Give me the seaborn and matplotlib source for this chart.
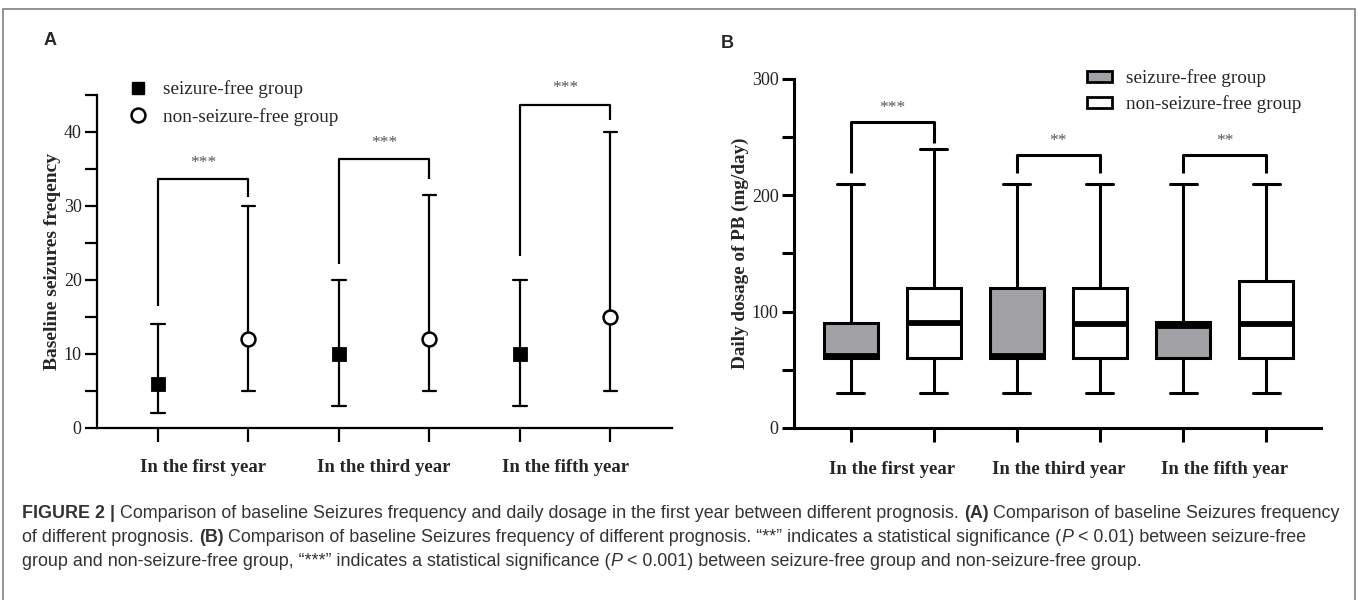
import numpy as np
import pandas as pd
import matplotlib
matplotlib.use("Agg")
import matplotlib.pyplot as plt
import seaborn as sns
from matplotlib.lines import Line2D
from matplotlib.patches import Patch, Rectangle

years = ["In the first year", "In the third year", "In the fifth year"]
groups = ["seizure-free group", "non-seizure-free group"]

# A: baseline seizure frequency, median with range
freq_med_sf = [6, 10, 10]
freq_low_sf = [2, 3, 3]
freq_high_sf = [14, 20, 20]
freq_med_nsf = [12, 12, 15]
freq_low_nsf = [5, 5, 5]
freq_high_nsf = [30, 31.5, 40]
brk_a_top = [33.6, 36.3, 43.7]
brk_a_left = [16.5, 22.2, 23.2]
brk_a_right = [31.2, 33.7, 41.6]
stars_a = ["***", "***", "***"]

# B: daily dosage of PB, box summaries
dose_min_sf = [30, 30, 30]
dose_q1_sf = [60, 60, 60]
dose_med_sf = [62, 62, 88]
dose_q3_sf = [90, 120, 91]
dose_max_sf = [210, 210, 210]
dose_min_nsf = [30, 30, 30]
dose_q1_nsf = [60, 60, 60]
dose_med_nsf = [90, 89, 89]
dose_q3_nsf = [120, 120, 126]
dose_max_nsf = [240, 210, 210]
brk_b_top = [263, 235, 235]
brk_b_left = [219, 219, 219]
brk_b_right = [245, 219, 219]
stars_b = ["***", "**", "**"]

sns.set_style("ticks")
plt.rcParams["font.family"] = ["Liberation Serif", "DejaVu Serif"]

# long tables for seaborn
rows = []
for i, y in enumerate(years):
    for v in (freq_low_sf[i], freq_med_sf[i], freq_high_sf[i]):
        rows.append((y, groups[0], v))
    for v in (freq_low_nsf[i], freq_med_nsf[i], freq_high_nsf[i]):
        rows.append((y, groups[1], v))
dfa = pd.DataFrame(rows, columns=["year", "group", "freq"])

rows = []
for i, y in enumerate(years):
    for v in (dose_min_sf[i], dose_q1_sf[i], dose_med_sf[i], dose_q3_sf[i], dose_max_sf[i]):
        rows.append((y, groups[0], v))
    for v in (dose_min_nsf[i], dose_q1_nsf[i], dose_med_nsf[i], dose_q3_nsf[i], dose_max_nsf[i]):
        rows.append((y, groups[1], v))
dfb = pd.DataFrame(rows, columns=["year", "group", "dose"])

fig = plt.figure(figsize=(13.58, 6.0), dpi=100)
fig.patches.append(Rectangle((0.0022, -0.02), 0.9956, 1.005, transform=fig.transFigure,
                             fill=False, edgecolor="#8a8a8a", linewidth=1.3))

offs = [-0.25, 0.25]

def style_axis(ax, lw, top, pad):
    sns.despine(ax=ax)
    for s in ("left", "bottom"):
        ax.spines[s].set_linewidth(lw)
        ax.spines[s].set_color("black")
    ax.spines["left"].set_bounds(0, top)
    ax.set_xticks(range(len(years)))
    ax.set_xticklabels(years, fontsize=13.5, fontweight="bold")
    ax.set_xticks([i + o for i in range(len(years)) for o in offs], minor=True)
    ax.tick_params(axis="x", which="major", length=0, pad=pad)
    ax.tick_params(axis="x", which="minor", length=10, width=lw, color="black")
    ax.tick_params(axis="y", which="both", length=9, width=lw, color="black",
                   labelsize=13, labelcolor="#222222", pad=2)
    ax.set_xlabel("")
    ax.set_facecolor("white")


def bracket(ax, i, top, left, right, txt, gap, lw):
    x0, x1 = i + offs[0], i + offs[1]
    ax.plot([x0, x0, x1, x1], [left, top, top, right], color="black", lw=lw,
            clip_on=False, solid_capstyle="butt")
    ax.text((x0 + x1) / 2, top + gap, txt, ha="center", va="center", fontsize=12.5,
            color="#555555", clip_on=False)


# ---- panel A ----
axa = fig.add_axes([0.0714, 0.2867, 0.4234, 0.555])
sns.pointplot(data=dfa, x="year", y="freq", hue="group", order=years, hue_order=groups,
              estimator="median", errorbar=lambda v: (v.min(), v.max()), dodge=0.5,
              markers=["s", "o"], linestyle="none", palette=["black", "black"],
              capsize=0.075, err_kws={"linewidth": 1.6}, markersize=9, legend=False, ax=axa)
for ln in axa.lines:
    if ln.get_marker() == "o":
        ln.set_markerfacecolor("white")
        ln.set_markeredgewidth(1.8)
        ln.set_markersize(10)
        ln.set_zorder(6)
    elif ln.get_marker() == "s":
        ln.set_zorder(6)
axa.set_ylim(0, 45)
axa.set_xlim(-0.586, 2.59)
axa.set_yticks([0, 10, 20, 30, 40])
axa.set_yticks([5, 15, 25, 35, 45], minor=True)
style_axis(axa, 1.6, 45, 22)
axa.set_ylabel("Baseline seizures freqency", fontsize=14, fontweight="bold")
axa.yaxis.set_label_coords(-0.062, 0.5)
for i in range(len(years)):
    bracket(axa, i, brk_a_top[i], brk_a_left[i], brk_a_right[i], stars_a[i], 2.2, 1.6)

hand_a = [Line2D([], [], marker="s", color="black", linestyle="none", markersize=9),
          Line2D([], [], marker="o", color="black", markerfacecolor="white", markeredgewidth=1.8,
                 linestyle="none", markersize=10)]
fig.legend(hand_a, groups, loc="upper left", bbox_to_anchor=(0.087, 0.882), frameon=False,
           fontsize=13.8, handlelength=1.1, handletextpad=0.75, labelspacing=0.5, borderpad=0)

# ---- panel B ----
axb = fig.add_axes([0.5847, 0.2867, 0.3881, 0.5817])
sns.boxplot(data=dfb, x="year", y="dose", hue="group", order=years, hue_order=groups,
            palette=["#a2a2a6", "white"], saturation=1, whis=(0, 100), width=1.0, gap=0.35,
            linewidth=2.2, linecolor="black", medianprops={"linewidth": 4.2},
            legend=False, ax=axb)
axb.set_ylim(0, 300)
axb.set_xlim(-0.59, 2.58)
axb.set_yticks([0, 100, 200, 300])
axb.set_yticks([50, 150, 250], minor=True)
style_axis(axb, 2.2, 300, 24)
axb.set_ylabel("Daily dosage of PB (mg/day)", fontsize=13.8, fontweight="bold")
axb.yaxis.set_label_coords(-0.085, 0.5)
for i in range(len(years)):
    bracket(axb, i, brk_b_top[i], brk_b_left[i], brk_b_right[i], stars_b[i], 12, 2.2)

hand_b = [Patch(facecolor="#a2a2a6", edgecolor="black", linewidth=2),
          Patch(facecolor="white", edgecolor="black", linewidth=2)]
fig.legend(hand_b, groups, loc="upper left", bbox_to_anchor=(0.7935, 0.9), frameon=False,
           fontsize=13.8, handlelength=1.3, handleheight=0.5, handletextpad=0.75,
           labelspacing=0.4, borderpad=0)

# panel letters
fig.text(0.037, 0.932, "A", fontsize=13, fontweight="bold", family=["Liberation Sans", "DejaVu Sans"],
         ha="center", va="center")
fig.text(0.5355, 0.927, "B", fontsize=13, fontweight="bold", family=["Liberation Sans", "DejaVu Sans"],
         ha="center", va="center")

# ---- caption ----
cap_family = ["Liberation Sans", "DejaVu Sans"]
cap_size = 12.9
renderer = fig.canvas.get_renderer()


def text_width(s, weight, style):
    t = fig.text(0, 0, s, fontsize=cap_size, fontweight=weight, fontstyle=style, family=cap_family)
    w = t.get_window_extent(renderer).width
    t.remove()
    return w


def draw_line(y, runs):
    x = 22
    for txt, weight, style, sp in runs:
        if sp:
            x += text_width("x x", weight, "normal") - text_width("xx", weight, "normal")
        t = fig.text(x / 1358, y, txt, fontsize=cap_size, fontweight=weight, fontstyle=style,
                     family=cap_family, color="#333333", ha="left", va="center")
        x += t.get_window_extent(renderer).width


draw_line(1 - 514 / 600, [
    ("FIGURE 2 |", "bold", "normal", False),
    ("Comparison of baseline Seizures frequency and daily dosage in the first year between different prognosis.",
     "normal", "normal", True),
    ("(A)", "bold", "normal", True),
    ("Comparison of baseline Seizures frequency", "normal", "normal", True),
])
draw_line(1 - 538 / 600, [
    ("of different prognosis.", "normal", "normal", False),
    ("(B)", "bold", "normal", True),
    ("Comparison of baseline Seizures frequency of different prognosis. \u201c**\u201d indicates a statistical significance (",
     "normal", "normal", True),
    ("P", "normal", "italic", False),
    ("< 0.01) between seizure-free", "normal", "normal", True),
])
draw_line(1 - 562 / 600, [
    ("group and non-seizure-free group, \u201c***\u201d indicates a statistical significance (",
     "normal", "normal", False),
    ("P", "normal", "italic", False),
    ("< 0.001) between seizure-free group and non-seizure-free group.", "normal", "normal", True),
])

fig.savefig("out.png", dpi=100, facecolor="white")
